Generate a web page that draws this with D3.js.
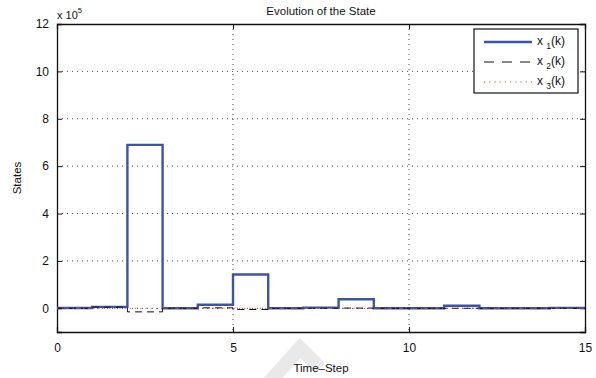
<!DOCTYPE html>
<html>
<head>
<meta charset="utf-8">
<script src="https://cdn.jsdelivr.net/npm/d3@7"></script>
<style>
  body { margin: 0; background: #fff; }
  text { font-family: "Liberation Sans", Arial, sans-serif; fill: #111; }
</style>
</head>
<body>
<div id="chart"></div>
<script>
// state values (in units of 1e5), one per time-step k = 0..14, held until k+1
var x1 = [0.01, 0.06, 6.9, 0, 0.15, 1.43, 0, 0.03, 0.38, 0, 0, 0.11, 0, 0, 0.02];
var x2 = [0, 0.05, -0.15, 0, 0.02, -0.05, 0, 0, 0.01, 0, 0, 0, 0, 0, 0];
var x3 = [0, 0, 0, 0, 0, 0, 0, 0, 0, 0, 0, 0, 0, 0, 0];
var xTicks = [0, 5, 10, 15];
var yTicks = [0, 2, 4, 6, 8, 10, 12];
var names = ["x1", "x2", "x3"];

var width = 596, height = 378;
var pl = 57, pr = 585, pt = 24, pb = 332;

var svg = d3.select("#chart").append("svg")
    .attr("width", width)
    .attr("height", height);

var x = d3.scaleLinear().domain([0, 15]).range([pl, pr]);
var y = d3.scaleLinear().domain([-1, 12]).range([pb, pt]);

// watermark
svg.append("path")
    .attr("d", "M266,386 L300,348 L320,368")
    .attr("fill", "none")
    .attr("stroke", "#e9e9e9")
    .attr("stroke-width", 14);

// grid
svg.append("g").selectAll("line")
    .data(xTicks.slice(1, -1))
    .join("line")
    .attr("x1", d => x(d)).attr("x2", d => x(d))
    .attr("y1", pt).attr("y2", pb)
    .attr("stroke", "#333").attr("stroke-width", 0.9)
    .attr("stroke-dasharray", "1,4");
svg.append("g").selectAll("line")
    .data(yTicks.slice(0, -1))
    .join("line")
    .attr("x1", pl).attr("x2", pr)
    .attr("y1", d => y(d)).attr("y2", d => y(d))
    .attr("stroke", "#333").attr("stroke-width", 0.9)
    .attr("stroke-dasharray", "1,4");

// axes
svg.append("g")
    .attr("transform", "translate(0," + pb + ")")
    .call(d3.axisBottom(x).tickValues(xTicks).tickSize(-5).tickPadding(11));
svg.append("g")
    .attr("transform", "translate(" + pl + ",0)")
    .call(d3.axisLeft(y).tickValues(yTicks).tickSize(-5).tickPadding(8));
svg.append("g")
    .attr("transform", "translate(0," + pt + ")")
    .call(d3.axisTop(x).tickValues(xTicks).tickSize(-5).tickFormat(""));
svg.append("g")
    .attr("transform", "translate(" + pr + ",0)")
    .call(d3.axisRight(y).tickValues(yTicks).tickSize(-5).tickFormat(""));
svg.selectAll(".domain").attr("stroke", "#111").attr("stroke-width", 1.3);
svg.selectAll(".tick line").attr("stroke", "#111");
svg.selectAll(".tick text").style("font-size", "12px").style("font-family", "Liberation Sans, Arial, sans-serif");

// lines
function steps(vals) {
    var pts = vals.map((v, i) => [i, v]);
    pts.push([vals.length, vals[vals.length - 1]]);
    return pts;
}
var line = d3.line()
    .x(d => x(d[0]))
    .y(d => y(d[1]))
    .curve(d3.curveStepAfter);

var styles = [
    { data: x1, color: "#3b54a8", w: 2.4, dash: null },
    { data: x2, color: "#111", w: 1, dash: "7,5" },
    { data: x3, color: "#e8464a", w: 1, dash: "1.2,4" }
];
styles.forEach(s => {
    svg.append("path")
        .datum(steps(s.data))
        .attr("d", line)
        .attr("fill", "none")
        .attr("stroke", s.color)
        .attr("stroke-width", s.w)
        .attr("stroke-dasharray", s.dash);
});

// texts
svg.append("text")
    .attr("x", (pl + pr) / 2).attr("y", 15)
    .attr("text-anchor", "middle")
    .style("font-size", "11.5px")
    .text("Evolution of the State");
svg.append("text")
    .attr("x", (pl + pr) / 2).attr("y", 372)
    .attr("text-anchor", "middle")
    .style("font-size", "11.5px")
    .text("Time\u2013Step");
svg.append("text")
    .attr("transform", "translate(21," + (pt + pb) / 2 + ") rotate(-90)")
    .attr("text-anchor", "middle")
    .style("font-size", "11.5px")
    .text("States");
var mult = svg.append("text")
    .attr("x", 57).attr("y", 19)
    .style("font-size", "11px");
mult.append("tspan").text("x 10");
mult.append("tspan").attr("dy", -6).style("font-size", "7.5px").text("5");

// legend
var lg = svg.append("g");
lg.append("rect")
    .attr("x", 474).attr("y", 29)
    .attr("width", 104).attr("height", 64)
    .attr("fill", "#fff").attr("stroke", "#111").attr("stroke-width", 1.2);
styles.forEach((s, i) => {
    var ly = 42 + i * 20;
    lg.append("line")
        .attr("x1", 484).attr("x2", 532)
        .attr("y1", ly).attr("y2", ly)
        .attr("stroke", s.color)
        .attr("stroke-width", s.w)
        .attr("stroke-dasharray", i === 1 ? "10,8" : s.dash);
    var t = lg.append("text")
        .attr("x", 537).attr("y", ly + 3)
        .style("font-size", "12px");
    t.append("tspan").text("x ");
    t.append("tspan").attr("dy", 4).style("font-size", "8.5px").text(names[i].slice(1));
    t.append("tspan").attr("dy", -4).text("(k)");
});
</script>
</body>
</html>
